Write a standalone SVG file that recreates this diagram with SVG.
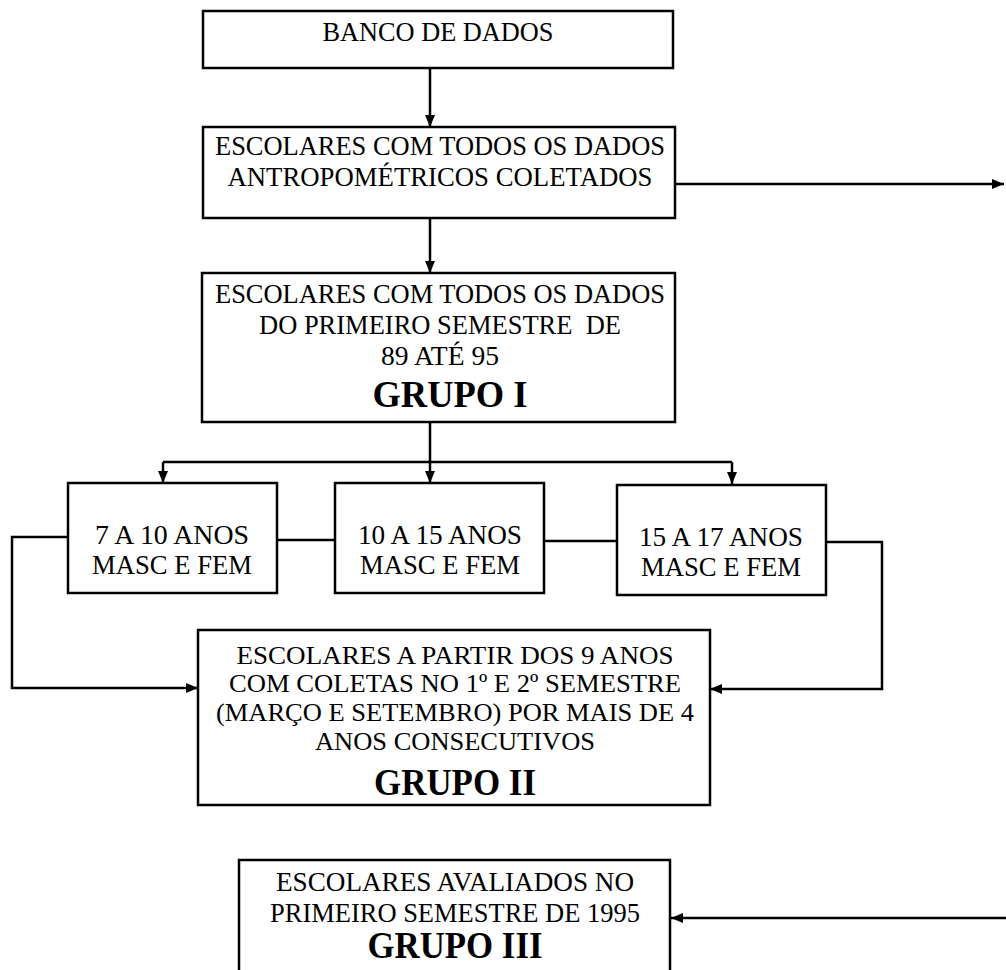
<svg xmlns="http://www.w3.org/2000/svg" width="1006" height="970" viewBox="0 0 1006 970">
<style>
.box{fill:#fff;stroke:#000;stroke-width:2.5}
.t{font-family:"Liberation Serif","Times New Roman",serif;font-size:27px;fill:#000;text-anchor:middle}
.s{font-size:26px}
.b{font-family:"Liberation Serif","Times New Roman",serif;font-size:38px;font-weight:bold;fill:#000;text-anchor:middle}
.c{fill:none;stroke:#000;stroke-width:2.5}
</style>
<defs>
<marker id="ah" markerWidth="12" markerHeight="10" refX="12" refY="5" orient="auto" markerUnits="userSpaceOnUse"><path d="M0,0 L12,5 L0,10 Z" fill="#000"/></marker>
</defs>
<rect width="1006" height="970" fill="#fff"/>
<g id="connectors">
<path class="c" d="M430,68 V127" marker-end="url(#ah)"/>
<path class="c" d="M675,184 H1004" marker-end="url(#ah)"/>
<path class="c" d="M430,218 V273" marker-end="url(#ah)"/>
<path class="c" d="M430,422 V483" marker-end="url(#ah)"/>
<path class="c" d="M163,462 H732"/>
<path class="c" d="M163,462 V483" marker-end="url(#ah)"/>
<path class="c" d="M732,462 V484" marker-end="url(#ah)"/>
<path class="c" d="M277,540 H335"/>
<path class="c" d="M544,541 H617"/>
<path class="c" d="M68,537 H12 V688 H198" marker-end="url(#ah)"/>
<path class="c" d="M826,542 H882 V689 H710" marker-end="url(#ah)"/>
<path class="c" d="M1006,918 H671" marker-end="url(#ah)"/>
</g>
<g id="banco">
<rect class="box" x="203" y="11" width="470" height="57"/>
<text class="t" x="438" y="41" textLength="231" lengthAdjust="spacingAndGlyphs">BANCO DE DADOS</text>
</g>
<g id="antropometricos">
<rect class="box" x="203" y="127" width="472" height="91"/>
<text class="t" x="440" y="155" textLength="450" lengthAdjust="spacingAndGlyphs">ESCOLARES COM TODOS OS DADOS</text>
<text class="t" x="440" y="186" textLength="425" lengthAdjust="spacingAndGlyphs">ANTROPOMÉTRICOS COLETADOS</text>
</g>
<g id="grupo1">
<rect class="box" x="202" y="273" width="473" height="149"/>
<text class="t" x="440" y="303" textLength="450" lengthAdjust="spacingAndGlyphs">ESCOLARES COM TODOS OS DADOS</text>
<text class="t" x="440" y="334" textLength="362" lengthAdjust="spacingAndGlyphs" xml:space="preserve">DO PRIMEIRO SEMESTRE  DE</text>
<text class="t" x="440" y="365" textLength="118" lengthAdjust="spacingAndGlyphs">89 ATÉ 95</text>
<text class="b" x="450" y="407" textLength="155" lengthAdjust="spacingAndGlyphs">GRUPO I</text>
</g>
<g id="idade7a10">
<rect class="box" x="68" y="483" width="209" height="110"/>
<text class="t" x="172" y="544" textLength="154" lengthAdjust="spacingAndGlyphs">7 A 10 ANOS</text>
<text class="t" x="172" y="574" textLength="160" lengthAdjust="spacingAndGlyphs">MASC E FEM</text>
</g>
<g id="idade10a15">
<rect class="box" x="335" y="483" width="209" height="110"/>
<text class="t" x="440" y="544" textLength="164" lengthAdjust="spacingAndGlyphs">10 A 15 ANOS</text>
<text class="t" x="440" y="574" textLength="160" lengthAdjust="spacingAndGlyphs">MASC E FEM</text>
</g>
<g id="idade15a17">
<rect class="box" x="617" y="485" width="209" height="110"/>
<text class="t" x="721" y="546" textLength="164" lengthAdjust="spacingAndGlyphs">15 A 17 ANOS</text>
<text class="t" x="721" y="576" textLength="160" lengthAdjust="spacingAndGlyphs">MASC E FEM</text>
</g>
<g id="grupo2">
<rect class="box" x="198" y="630" width="512" height="175"/>
<text class="t s" x="455" y="664" textLength="437" lengthAdjust="spacingAndGlyphs">ESCOLARES A PARTIR DOS 9 ANOS</text>
<text class="t s" x="455" y="692" textLength="452" lengthAdjust="spacingAndGlyphs">COM COLETAS NO 1º E 2º SEMESTRE</text>
<text class="t s" x="455" y="721" textLength="478" lengthAdjust="spacingAndGlyphs">(MARÇO E SETEMBRO) POR MAIS DE 4</text>
<text class="t s" x="455" y="750" textLength="280" lengthAdjust="spacingAndGlyphs">ANOS CONSECUTIVOS</text>
<text class="b" x="455" y="795" textLength="162" lengthAdjust="spacingAndGlyphs">GRUPO II</text>
</g>
<g id="grupo3">
<path class="box" d="M239,972 V860 H670 V972"/>
<text class="t" x="455" y="891" textLength="358" lengthAdjust="spacingAndGlyphs">ESCOLARES AVALIADOS NO</text>
<text class="t" x="455" y="922" textLength="370" lengthAdjust="spacingAndGlyphs">PRIMEIRO SEMESTRE DE 1995</text>
<text class="b" x="455" y="958" textLength="175" lengthAdjust="spacingAndGlyphs">GRUPO III</text>
</g>
</svg>
